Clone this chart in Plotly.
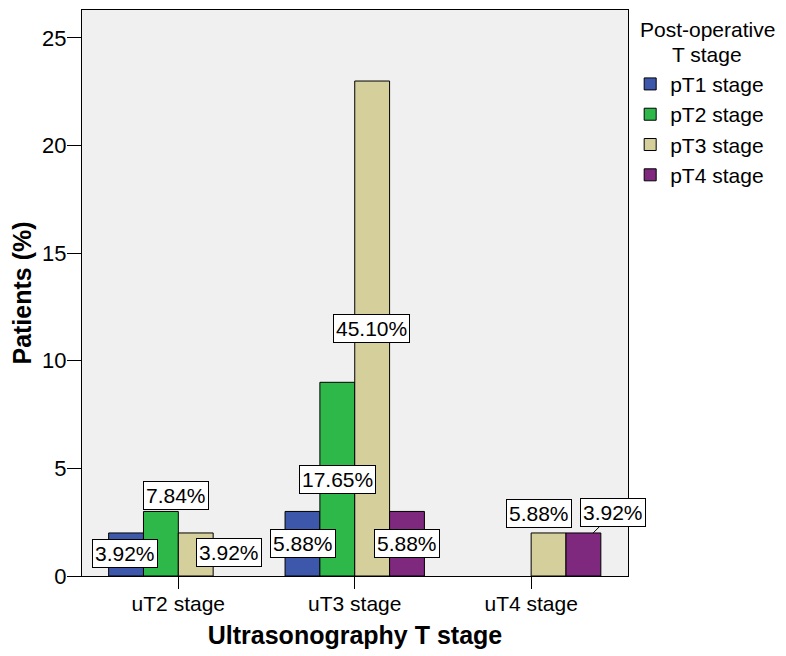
import plotly.graph_objects as go

# data (None = no patients, no bar drawn)
us_stages = ['uT2 stage', 'uT3 stage', 'uT4 stage']
pt1 = [2, 3, None]
pt2 = [3, 9, None]
pt3 = [2, 23, 2]
pt4 = [None, 3, 2]
series_names = ['pT1 stage', 'pT2 stage', 'pT3 stage', 'pT4 stage']
series_colors = ['#3D58AB', '#2FB84A', '#D4CF9B', '#7E287E']

# bar labels (percent of all patients) and where SPSS put them
label_stage = ['uT2 stage', 'uT2 stage', 'uT2 stage', 'uT3 stage', 'uT3 stage',
               'uT3 stage', 'uT3 stage', 'uT4 stage', 'uT4 stage']
label_text = ['3.92%', '7.84%', '3.92%', '5.88%', '17.65%', '45.10%', '5.88%',
              '5.88%', '3.92%']
label_y = [1.05, 3.75, 1.1, 1.5, 4.5, 11.5, 1.5, 2.9, 2.0]
label_shift = [-53, -2, 51, -52, -17, 17, 52, 8, 62]

font = 'Liberation Sans, Arial, sans-serif'

fig = go.Figure()
for name, vals, col in zip(series_names, [pt1, pt2, pt3, pt4], series_colors):
    fig.add_trace(go.Bar(x=us_stages, y=vals, name=name, marker_color=col,
                         marker_line=dict(color='black', width=1)))

box = dict(bgcolor='white', bordercolor='black', borderwidth=1, borderpad=2,
           font=dict(size=21, color='black', family=font))
for i, (st, txt, yy, sh) in enumerate(zip(label_stage, label_text, label_y, label_shift)):
    if i == len(label_text) - 1:
        # last label sits beside its bar with a short leader line
        fig.add_annotation(x=st, y=yy, text=txt, xshift=sh, showarrow=True,
                           arrowhead=0, arrowwidth=1, arrowcolor='black',
                           ax=20, ay=-20, **box)
    else:
        fig.add_annotation(x=st, y=yy, text=txt, xshift=sh, showarrow=False, **box)

# legend title, centred on two lines like SPSS
fig.add_annotation(xref='paper', yref='paper', x=1.1456, y=0.965, text='Post-operative',
                   xanchor='center', yanchor='middle', showarrow=False,
                   font=dict(size=21, family=font, color='black'))
fig.add_annotation(xref='paper', yref='paper', x=1.1456, y=0.921, text='T stage',
                   xanchor='center', yanchor='middle', showarrow=False,
                   font=dict(size=21, family=font, color='black'))

# the page body adds an 8px offset, so the margins are pulled in to compensate
fig.update_layout(
    width=786, height=656,
    margin=dict(l=74, r=166, t=2, b=88),
    barmode='group', bargap=0.21, bargroupgap=0,
    plot_bgcolor='#F0F0F0', paper_bgcolor='white',
    font=dict(family=font, size=21, color='black'),
    legend=dict(x=1.004, xanchor='left', y=0.905, yanchor='top',
                font=dict(size=21), tracegroupgap=0, bgcolor='rgba(0,0,0,0)'),
    xaxis=dict(title=dict(text='<b>Ultrasonography T stage</b>', standoff=12),
               range=[-0.546, 2.549], automargin=False,
               showline=True, mirror=True, linecolor='black', linewidth=1,
               ticks='outside', ticklen=12, tickcolor='black', showgrid=False,
               tickfont=dict(size=21), ticklabelstandoff=-3),
    yaxis=dict(title=dict(text='<b>Patients (%)</b>', standoff=8),
               range=[0, 26.3], dtick=5, automargin=False,
               showline=True, mirror=True, linecolor='black', linewidth=1,
               ticks='outside', ticklen=14, tickcolor='black', showgrid=False,
               zeroline=False, tickfont=dict(size=22), ticklabelstandoff=-4),
)

fig.write_html("out.html")
